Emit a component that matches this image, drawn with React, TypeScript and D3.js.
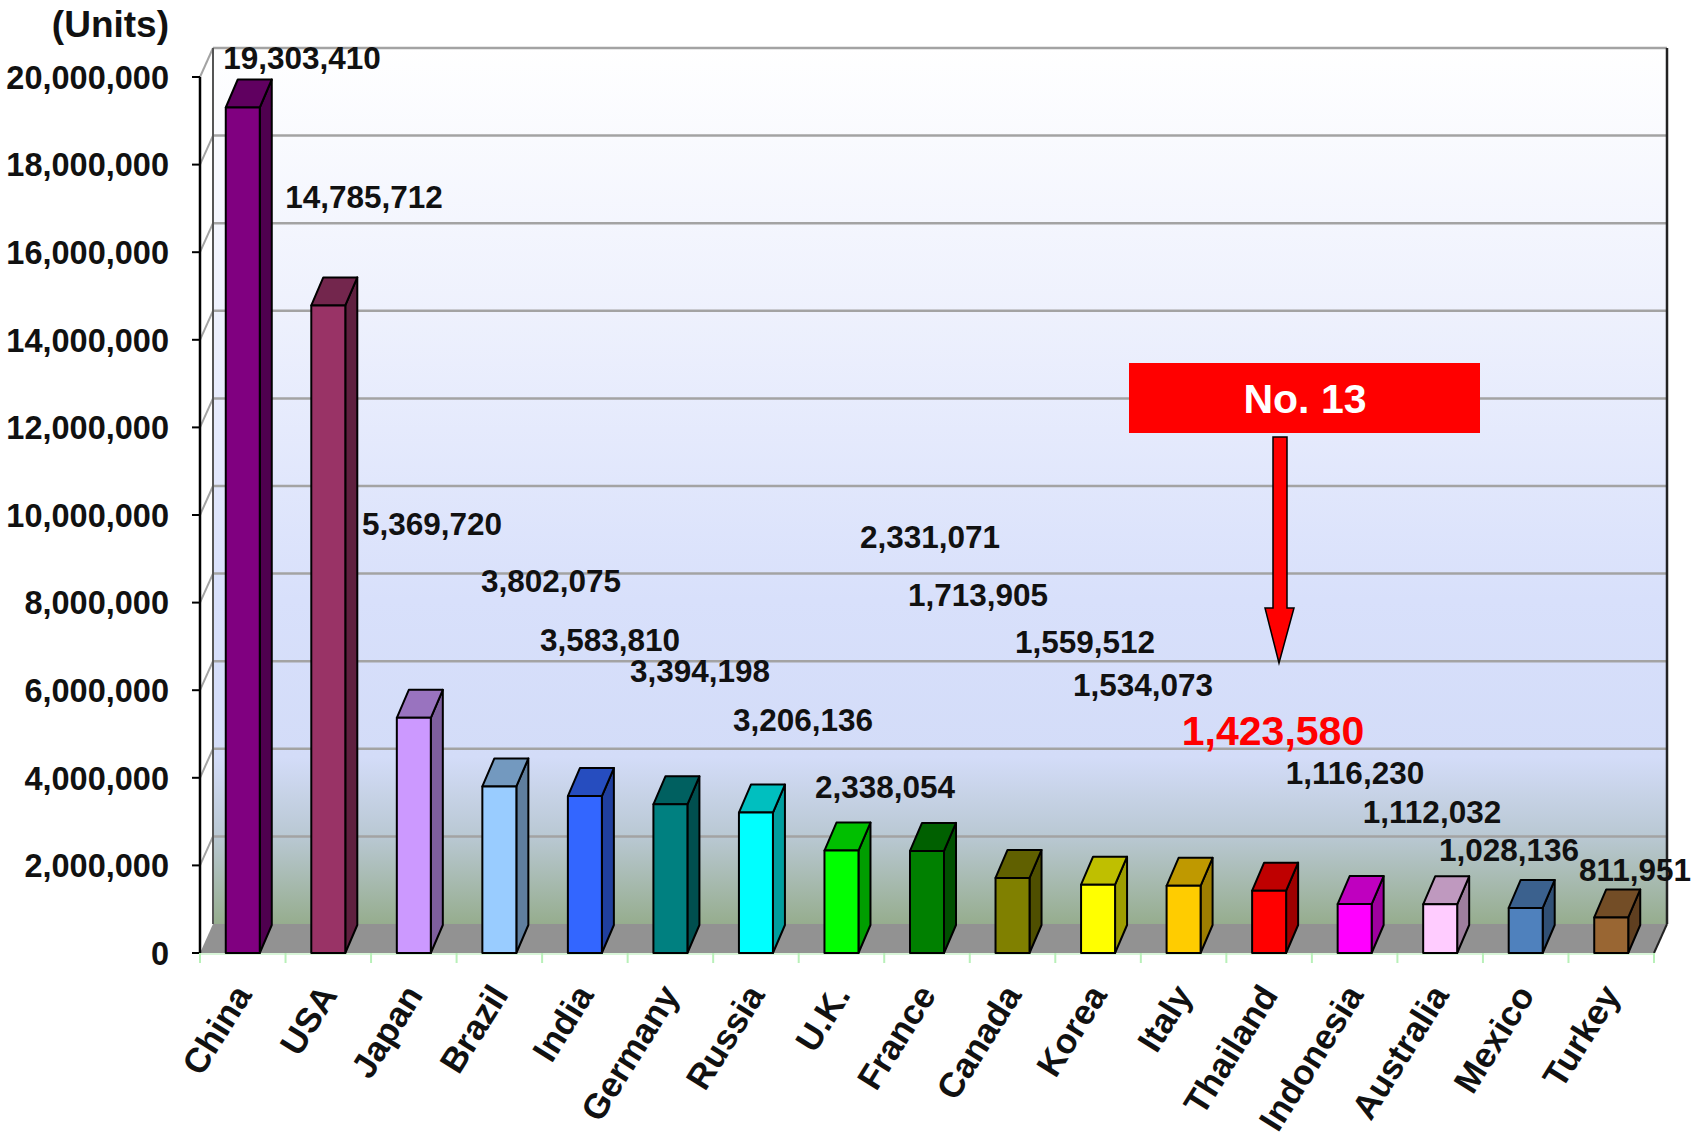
import React from "react";
import * as d3 from "d3";

const categories = ["China","USA","Japan","Brazil","India","Germany","Russia","U.K.","France","Canada","Korea","Italy","Thailand","Indonesia","Australia","Mexico","Turkey"];
const values = [19303410,14785712,5369720,3802075,3583810,3394198,3206136,2338054,2331071,1713905,1559512,1534073,1423580,1116230,1112032,1028136,811951];
const barColors = ["#800080","#993366","#cc99ff","#99ccff","#3366ff","#008080","#00ffff","#00ff00","#008000","#808000","#ffff00","#ffcc00","#ff0000","#ff00ff","#ffccff","#4f81bd","#996633"];
const yTicks = [0,2000000,4000000,6000000,8000000,10000000,12000000,14000000,16000000,18000000,20000000];
const highlightIndex = 12;
const calloutText = "No. 13";
const unitText = "(Units)";

// layout of value labels (pixel centres), kept apart from the data
const LABEL_LAYOUT: [number, number][] = [
  [302,58],[364,197],[432,524],[551,581],[610,640],[700,671],[803,720],[885,787],[930,537],
  [978,595],[1085,642],[1143,685],[1273,730],[1355,773],[1432,812],[1509,850],[1635,870]
];

const W = 1701, H = 1139;
const X0 = 200, X1 = 1654;
const Y0 = 953, Y20 = 77;
const DX = 13, DY = -29;
const FONT = "'Liberation Sans', Arial, Helvetica, sans-serif";

function shade(c: string, k: number) {
  const r = d3.rgb(c);
  return d3.rgb(r.r * k, r.g * k, r.b * k).formatHex();
}

export default function App() {
  const x = d3.scaleBand<string>().domain(categories).range([X0, X1]).padding(0);
  const y = d3.scaleLinear().domain([0, 20000000]).range([Y0, Y20]);
  const fmt = d3.format(",");
  const bw = 34;
  const bdx = 12, bdy = -28;

  const yTop = y(20000000);
  const backTop = yTop + DY;
  const backBottom = Y0 + DY;

  return (
    <svg width={W} height={H} style={{ position: "absolute", left: 0, top: 0, background: "#fff" }} fontFamily={FONT}>
      <defs>
        <linearGradient id="wall" gradientUnits="userSpaceOnUse" x1="0" y1={backTop} x2="0" y2={backBottom}>
          <stop offset="0" stopColor="#ffffff" />
          <stop offset="0.3" stopColor="#eef1fd" />
          <stop offset="0.63" stopColor="#d8e0fb" />
          <stop offset="0.81" stopColor="#d3dcf8" />
          <stop offset="0.9" stopColor="#b9c8d3" />
          <stop offset="1" stopColor="#96ad8e" />
        </linearGradient>
      </defs>
      {/* back wall */}
      <rect x={X0 + DX} y={backTop} width={X1 - X0} height={backBottom - backTop} fill="url(#wall)" />
      {/* left wall */}
      <polygon points={`${X0},${yTop} ${X0 + DX},${backTop} ${X0 + DX},${backBottom} ${X0},${Y0}`} fill="#ffffff" />
      {/* floor */}
      <polygon points={`${X0},${Y0} ${X1},${Y0} ${X1 + DX},${backBottom} ${X0 + DX},${backBottom}`} fill="#929292" />
      {/* gridlines */}
      {yTicks.filter(t => t > 0).map(t => (
        <g key={t}>
          <line x1={X0 + DX} x2={X1 + DX} y1={y(t) + DY} y2={y(t) + DY} stroke="#a3a3a3" strokeWidth={2.5} />
          <line x1={X0} x2={X0 + DX} y1={y(t)} y2={y(t) + DY} stroke="#a3a3a3" strokeWidth={2} />
        </g>
      ))}
      <line x1={X0 + DX} x2={X0 + DX} y1={backTop} y2={backBottom} stroke="#555" strokeWidth={2} />
      <line x1={X1 + DX} x2={X1 + DX} y1={backTop} y2={backBottom} stroke="#222" strokeWidth={2.5} />
      <line x1={X1} x2={X1 + DX} y1={Y0} y2={backBottom} stroke="#222" strokeWidth={2} />
      {/* y axis */}
      <line x1={X0} x2={X0} y1={yTop} y2={Y0} stroke="#000" strokeWidth={2.5} />
      {yTicks.map(t => (
        <g key={t}>
          <line x1={X0 - 8} x2={X0} y1={y(t)} y2={y(t)} stroke="#000" strokeWidth={2} />
          <text x={169} y={y(t)} dy="0.36em" textAnchor="end" fontSize={32.5} fontWeight="bold" fill="#111">{fmt(t)}</text>
        </g>
      ))}
      <text x={169} y={37} textAnchor="end" fontSize={37} fontWeight="bold" fill="#111">{unitText}</text>
      {/* x axis */}
      <line x1={X0} x2={X1} y1={Y0 + 1} y2={Y0 + 1} stroke="#d8f5d8" strokeWidth={2} />
      {d3.range(categories.length + 1).map(i => {
        const xx = X0 + i * x.bandwidth();
        return <line key={i} x1={xx} x2={xx} y1={Y0} y2={Y0 + 10} stroke="#b8f0b8" strokeWidth={2} />;
      })}
      {/* bars */}
      {categories.map((c, i) => {
        const cx = (x(c) as number) + x.bandwidth() / 2;
        const xl = cx - bw / 2, xr = cx + bw / 2;
        const yt = y(values[i]);
        const col = barColors[i];
        return (
          <g key={c} stroke="#000" strokeWidth={2} strokeLinejoin="round">
            <polygon points={`${xr},${yt} ${xr + bdx},${yt + bdy} ${xr + bdx},${Y0 + bdy} ${xr},${Y0}`} fill={shade(col, 0.62)} />
            <polygon points={`${xl},${yt} ${xl + bdx},${yt + bdy} ${xr + bdx},${yt + bdy} ${xr},${yt}`} fill={shade(col, 0.75)} />
            <rect x={xl} y={yt} width={bw} height={Y0 - yt} fill={col} />
          </g>
        );
      })}
      {/* category labels */}
      {categories.map(c => {
        const cx = (x(c) as number) + x.bandwidth() / 2;
        const lx = cx + 10, ly = 995;
        return (
          <text key={c} x={lx} y={ly} textAnchor="end" fontSize={35} fontWeight="bold" fill="#111"
            transform={`rotate(-58 ${lx} ${ly})`}>{c}</text>
        );
      })}
      {/* value labels */}
      {values.map((v, i) => {
        const [lx, ly] = LABEL_LAYOUT[i];
        const hi = i === highlightIndex;
        return (
          <text key={i} x={lx} y={ly} dy="0.36em" textAnchor="middle" fontSize={hi ? 41 : 31.5} fontWeight="bold" fill={hi ? "#ff0000" : "#111"}>{fmt(v)}</text>
        );
      })}
      {/* callout */}
      <rect x={1129} y={363} width={351} height={70} fill="#ff0000" />
      <text x={1305} y={398} dy="0.36em" textAnchor="middle" fontSize={41} fontWeight="bold" fill="#fff">{calloutText}</text>
      <polygon points="1273,437 1287,437 1287,608 1294,608 1279,663 1265,608 1273,608" fill="#ff0000" stroke="#000" strokeWidth={1.5} />
    </svg>
  );
}
